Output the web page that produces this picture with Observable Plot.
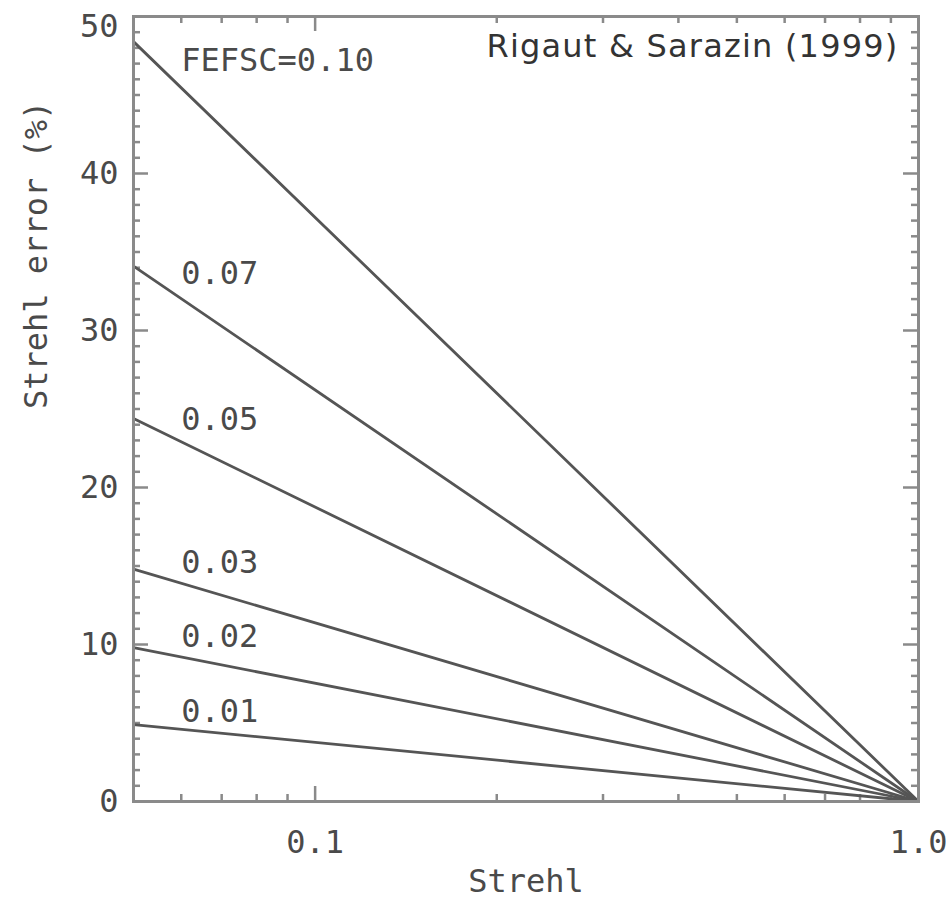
<!DOCTYPE html>
<html><head><meta charset="utf-8">
<script src="https://cdn.jsdelivr.net/npm/d3@7"></script>
<script src="https://cdn.jsdelivr.net/npm/@observablehq/plot@0.6"></script>
<style>html,body{margin:0;padding:0;background:#fff}</style>
</head><body><div id="chart"></div>
<script>
// ---- data ----
const fefsc = ["0.10", "0.07", "0.05", "0.03", "0.02", "0.01"];
const lineLabels = ["FEFSC=0.10", "0.07", "0.05", "0.03", "0.02", "0.01"];
const strehlStart = 0.05;
const strehlEnd = 1.0;
const errorAtStart = [48.4, 34.1, 24.4, 14.8, 9.8, 4.9];
const errorAtEnd = [0, 0, 0, 0, 0, 0];
const labelStrehl = 0.06;
const labelError = [47.2, 33.6, 24.3, 15.2, 10.5, 5.7];
const citation = "Rigaut & Sarazin (1999)";
const xTitle = "Strehl";
const yTitle = "Strehl error (%)";
const xMajorTicks = [0.1, 1.0];
const xMajorTickLabels = ["0.1", "1.0"];
const xMinorTicks = [0.06, 0.07, 0.08, 0.09, 0.2, 0.3, 0.4, 0.5, 0.6, 0.7, 0.8, 0.9];
const yMajorTicks = [0, 10, 20, 30, 40, 50];
const yMajorTickLabels = ["0", "10", "20", "30", "40", "50"];
const yMinorTicks = [1,2,3,4,5,6,7,8,9,11,12,13,14,15,16,17,18,19,21,22,23,24,25,26,27,28,29,
                     31,32,33,34,35,36,37,38,39,41,42,43,44,45,46,47,48,49];

// ---- build tables ----
const lineData = fefsc.flatMap((f, i) => [
  {fefsc: f, strehl: strehlStart, error: errorAtStart[i]},
  {fefsc: f, strehl: strehlEnd, error: errorAtEnd[i]}
]);
const labelData = lineLabels.map((t, i) => ({text: t, strehl: labelStrehl, error: labelError[i]}));
const xTickLabelData = xMajorTicks.map((v, i) => ({v, t: xMajorTickLabels[i]}));
const yTickLabelData = yMajorTicks.map((v, i) => ({v, t: yMajorTickLabels[i]}));
const yTop = yMajorTicks[yMajorTicks.length - 1];

const W = 946, H = 900;
const mL = 133, mR = 28, mT = 16, mB = 99;
const innerW = W - mL - mR, innerH = H - mT - mB;
const majorLen = 15, minorLen = 7;
const axisCol = "#8a8a8a";
const inkCol = "#4a4a4a";
const mono = "DejaVu Sans Mono";

const plot = Plot.plot({
  width: W, height: H,
  marginLeft: mL, marginRight: mR, marginTop: mT, marginBottom: mB,
  x: {type: "log", domain: [strehlStart, strehlEnd], axis: null},
  y: {domain: [0, 50], axis: null},
  style: {background: "#fff"},
  marks: [
    // ticks (inward, on all four sides)
    Plot.tickX(xMajorTicks, {x: d => d, insetTop: innerH - majorLen, stroke: axisCol, strokeWidth: 2.5}),
    Plot.tickX(xMinorTicks, {x: d => d, insetTop: innerH - minorLen, stroke: axisCol, strokeWidth: 2.5}),
    Plot.tickX(xMajorTicks, {x: d => d, insetBottom: innerH - majorLen, stroke: axisCol, strokeWidth: 2.5}),
    Plot.tickX(xMinorTicks, {x: d => d, insetBottom: innerH - minorLen, stroke: axisCol, strokeWidth: 2.5}),
    Plot.tickY(yMajorTicks, {y: d => d, insetRight: innerW - majorLen, stroke: axisCol, strokeWidth: 2.5}),
    Plot.tickY(yMinorTicks, {y: d => d, insetRight: innerW - minorLen, stroke: axisCol, strokeWidth: 2.5}),
    Plot.tickY(yMajorTicks, {y: d => d, insetLeft: innerW - majorLen, stroke: axisCol, strokeWidth: 2.5}),
    Plot.tickY(yMinorTicks, {y: d => d, insetLeft: innerW - minorLen, stroke: axisCol, strokeWidth: 2.5}),
    // lines
    Plot.line(lineData, {x: "strehl", y: "error", z: "fefsc", stroke: "#555", strokeWidth: 2.8}),
    Plot.frame({stroke: axisCol, strokeWidth: 3}),
    // line labels
    Plot.text(labelData, {x: "strehl", y: "error", text: "text", textAnchor: "start", lineAnchor: "middle",
      fontFamily: mono, fontSize: 32, fill: inkCol}),
    // tick labels
    Plot.text(xTickLabelData, {x: "v", text: "t", frameAnchor: "bottom", lineAnchor: "top", dy: 29,
      fontFamily: mono, fontSize: 32, fill: inkCol}),
    Plot.text(yTickLabelData.filter(d => d.v !== yTop), {y: "v", text: "t", frameAnchor: "left", textAnchor: "end", dx: -15,
      fontFamily: mono, fontSize: 32, fill: inkCol}),
    Plot.text(yTickLabelData.filter(d => d.v === yTop), {y: "v", text: "t", frameAnchor: "left", textAnchor: "end", dx: -15,
      lineAnchor: "top", dy: -2, fontFamily: mono, fontSize: 32, fill: inkCol}),
    // axis titles
    Plot.text([xTitle], {text: d => d, frameAnchor: "bottom", lineAnchor: "middle", dy: 80,
      fontFamily: mono, fontSize: 32, fill: inkCol}),
    Plot.text([yTitle], {text: d => d, frameAnchor: "left", rotate: -90, lineAnchor: "middle", dx: -97,
      fontFamily: mono, fontSize: 32, fill: inkCol}),
    // citation
    Plot.text([citation], {text: d => d, frameAnchor: "top-right", textAnchor: "end", lineAnchor: "middle",
      dx: -20, dy: 30, fontFamily: "DejaVu Sans", fontSize: 32, fill: "#333"})
  ]
});
document.getElementById("chart").appendChild(plot);
d3.select(plot).selectAll("text").filter(function () { return this.textContent === citation; })
  .attr("letter-spacing", "1.2px");
</script>
</body></html>
